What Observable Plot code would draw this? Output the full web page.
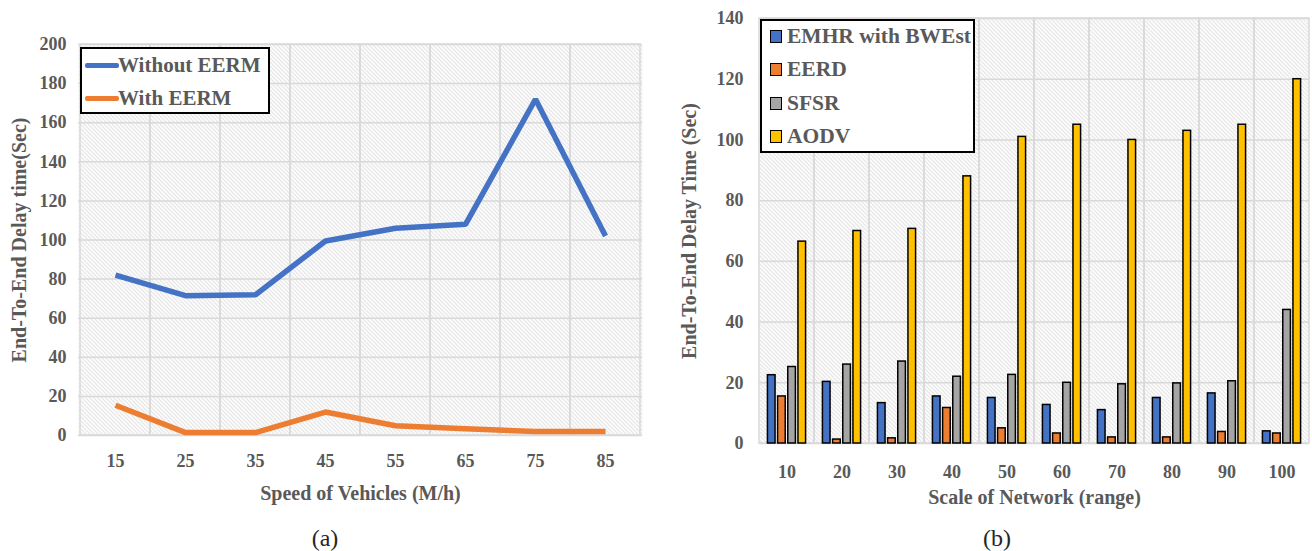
<!DOCTYPE html>
<html><head><meta charset="utf-8">
<script src="https://cdn.jsdelivr.net/npm/d3@7"></script>
<script src="https://cdn.jsdelivr.net/npm/@observablehq/plot@0.6"></script>
<style>
body{margin:0;background:#fff;width:1312px;height:551px;position:relative;overflow:hidden;font-family:"Liberation Serif",serif;}
#a{position:absolute;left:0;top:0}
#b{position:absolute;left:660px;top:0}
.cap{position:absolute;top:524px;font-size:24px;color:#262626;width:60px;text-align:center;line-height:28px}
.leg{position:absolute;background:#fff;border:2.5px solid #000;box-sizing:border-box;font-weight:bold;color:#595959}
.item{position:absolute;white-space:nowrap;line-height:24px}
.ln{position:absolute;height:5px;border-radius:2px}
.sw{position:absolute;width:10px;height:11px;border:1.5px solid #000}
</style></head><body>
<div id="a"></div><div id="b"></div>
<div class="cap" style="left:295px">(a)</div>
<div class="cap" style="left:967px">(b)</div>
<div class="leg" style="left:80px;top:47px;width:190px;height:67px">
  <div class="ln" style="left:3px;top:14px;width:34px;background:#4472C4"></div>
  <div class="item" style="left:36px;top:4px;font-size:21px">Without EERM</div>
  <div class="ln" style="left:3px;top:47px;width:34px;background:#ED7D31"></div>
  <div class="item" style="left:36px;top:37px;font-size:21px">With EERM</div>
</div>
<div class="leg" style="left:760px;top:19px;width:215px;height:134px">
  <div class="sw" style="left:8px;top:9px;background:#4472C4"></div>
  <div class="item" style="left:25px;top:3px;font-size:21.5px">EMHR with BWEst</div>
  <div class="sw" style="left:8px;top:42px;background:#ED7D31"></div>
  <div class="item" style="left:25px;top:36px;font-size:21.5px">EERD</div>
  <div class="sw" style="left:8px;top:76px;background:#A5A5A5"></div>
  <div class="item" style="left:25px;top:70px;font-size:21.5px">SFSR</div>
  <div class="sw" style="left:8px;top:109px;background:#FFC000"></div>
  <div class="item" style="left:25px;top:103px;font-size:21.5px">AODV</div>
</div>
<script>
// ---- Panel (a) data ----
const speeds = ["15","25","35","45","55","65","75","85"];
const withoutEERM = [82, 71.5, 72, 99.5, 106, 108, 172, 102];
const withEERM = [15.5, 1.5, 1.5, 12, 5, 3.5, 2, 2];
const seriesA = ["Without EERM", "With EERM"];
const colorsA = ["#4472C4", "#ED7D31"];
const yTicksA = [0,20,40,60,80,100,120,140,160,180,200];

// ---- Panel (b) data ----
const networkScales = ["10","20","30","40","50","60","70","80","90","100"];
const emhr = [22.5, 20.3, 13.3, 15.5, 15, 12.7, 11, 15, 16.5, 4];
const eerd = [15.5, 1.3, 1.7, 11.7, 5, 3.3, 2, 2, 3.8, 3.3];
const sfsr = [25.2, 26, 27, 22, 22.6, 20, 19.5, 19.8, 20.5, 44];
const aodv = [66.5, 70, 70.7, 88, 101, 105, 100, 103, 105, 120];
const seriesB = ["EMHR with BWEst", "EERD", "SFSR", "AODV"];
const colorsB = ["#4472C4", "#ED7D31", "#A5A5A5", "#FFC000"];
const yTicksB = [0,20,40,60,80,100,120,140];

const textStyle = {fontFamily: "'Liberation Serif', serif", fontWeight: "bold", fontSize: "17px", color: "#595959", background: "transparent", overflow: "visible"};
const gridColor = "#d9d9d9";
const tickFont = 18, labelFont = 20;

function addHatch(svg, id) {
  svg.insertAdjacentHTML("afterbegin",
    `<defs><pattern id="${id}" patternUnits="userSpaceOnUse" width="4" height="4">
      <rect width="4" height="4" fill="#fff"/>
      <path d="M-1,-1L5,5M-1,3L1,5M3,-1L5,1" stroke="#c4c4c4" stroke-width="0.8"/>
    </pattern></defs>`);
}

// ---- Panel (a) ----
const lineData = [];
speeds.forEach((s, i) => {
  lineData.push({s, v: withoutEERM[i], k: seriesA[0]});
  lineData.push({s, v: withEERM[i], k: seriesA[1]});
});
const plotA = Plot.plot({
  width: 660, height: 515,
  marginLeft: 78, marginRight: 18, marginTop: 44, marginBottom: 80,
  style: textStyle,
  x: {type: "band", domain: speeds, padding: 0},
  y: {domain: [0, 200]},
  color: {domain: seriesA, range: colorsA},
  marks: [
    Plot.frame({fill: "url(#hatchA)", stroke: "none"}),
    Plot.ruleY(yTicksA, {stroke: gridColor, strokeWidth: 1.5}),
    Plot.barY(speeds, {x: d => d, y1: 0, y2: 200, fill: "none", stroke: gridColor, strokeWidth: 1.5}),
    Plot.axisY(yTicksA, {tickSize: 0, tickPadding: 12, fontSize: tickFont, label: null}),
    Plot.axisY([], {label: "End-To-End Delay time(Sec)", labelAnchor: "center", labelArrow: "none", labelOffset: 67, fontSize: labelFont}),
    Plot.axisX({tickSize: 0, tickPadding: 19, fontSize: tickFont, label: null}),
    Plot.axisX([], {label: "Speed of Vehicles (M/h)", labelAnchor: "center", labelArrow: "none", labelOffset: 64, fontSize: labelFont}),
    Plot.line(lineData, {x: "s", y: "v", z: "k", stroke: "k", strokeWidth: 5.5, strokeLinejoin: "miter", strokeLinecap: "butt"})
  ]
});
addHatch(plotA, "hatchA");
document.getElementById("a").append(plotA);

// ---- Panel (b) ----
const W_B = 652, mLB = 99, mRB = 3;
const bw = (W_B - mLB - mRB) / networkScales.length;
const barStep = bw * 0.185, barW = barStep * 0.75;
const groupOff = bw / 2 - (3 * barStep + barW) / 2;
const valuesB = [emhr, eerd, sfsr, aodv];
const barMarks = seriesB.map((name, j) => {
  const rows = networkScales.map((c, i) => ({c, v: valuesB[j][i], k: name}));
  const left = groupOff + j * barStep;
  return Plot.barY(rows, {x: "c", y: "v", fill: "k", stroke: "#000", strokeWidth: 1.5,
    insetLeft: left, insetRight: bw - left - barW});
});
const plotB = Plot.plot({
  width: W_B, height: 515,
  marginLeft: mLB, marginRight: mRB, marginTop: 18, marginBottom: 72,
  style: textStyle,
  x: {type: "band", domain: networkScales, padding: 0},
  y: {domain: [0, 140]},
  color: {domain: seriesB, range: colorsB},
  marks: [
    Plot.frame({fill: "url(#hatchB)", stroke: "none"}),
    Plot.ruleY(yTicksB, {stroke: gridColor, strokeWidth: 1.5}),
    Plot.barY(networkScales, {x: d => d, y1: 0, y2: 140, fill: "none", stroke: gridColor, strokeWidth: 1.5}),
    Plot.axisY(yTicksB, {tickSize: 0, tickPadding: 16, fontSize: tickFont, label: null}),
    Plot.axisY([], {label: "End-To-End Delay Time (Sec)", labelAnchor: "center", labelArrow: "none", labelOffset: 78, fontSize: labelFont}),
    Plot.axisX({tickSize: 0, tickPadding: 22, fontSize: tickFont, label: null}),
    Plot.axisX([], {label: "Scale of Network (range)", labelAnchor: "center", labelArrow: "none", labelOffset: 60, fontSize: labelFont}),
    ...barMarks
  ]
});
addHatch(plotB, "hatchB");
document.getElementById("b").append(plotB);
</script>
</body></html>
